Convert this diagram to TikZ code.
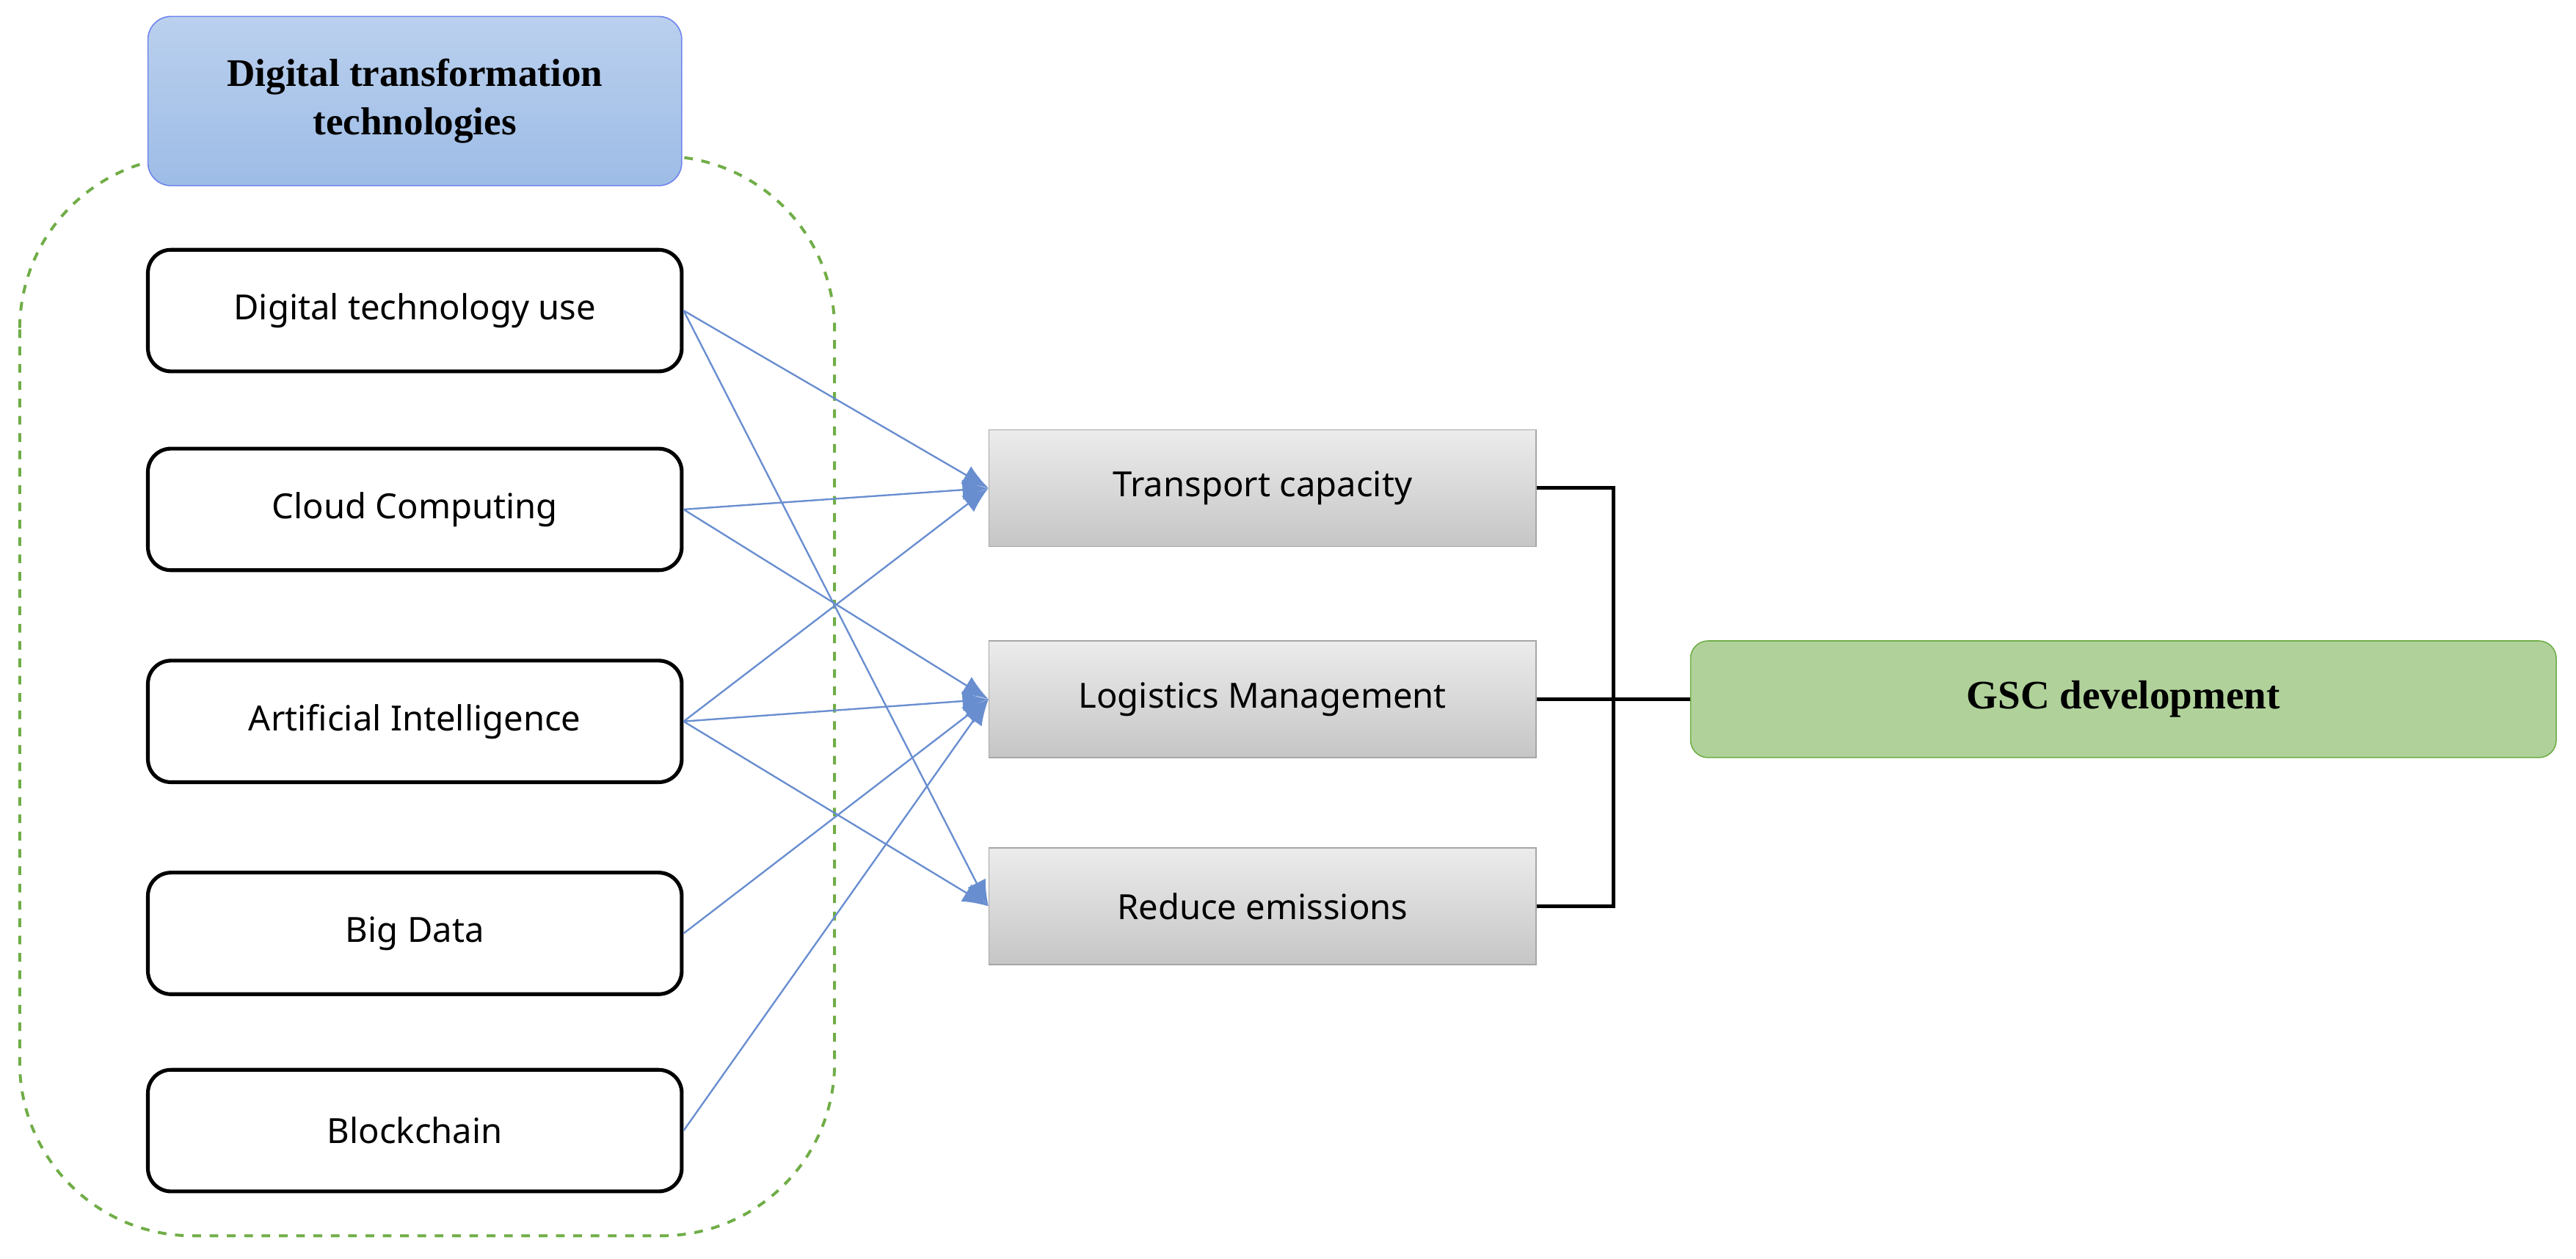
\documentclass[tikz,border=0pt]{standalone}
\usepackage{fontspec}
\setmainfont{Liberation Serif}
\newfontfamily\boxfont{Noto Sans}
\usetikzlibrary{arrows.meta}
\definecolor{techblue}{HTML}{4472C4}
\definecolor{headblue}{HTML}{9DBCE6}
\definecolor{groupgreen}{HTML}{70AD47}
\tikzset{
  tech/.style={draw, line width=1.3pt, rounded corners=8pt, minimum width=6.5cm, minimum height=1.48cm, font=\boxfont\fontsize{12}{14}\selectfont},
  effect/.style={draw=gray!70, top color=gray!15, bottom color=gray!45, minimum width=6.66cm, minimum height=1.42cm, font=\boxfont\fontsize{12}{14}\selectfont},
  link/.style={draw=techblue!80, line width=0.6pt, -{Latex[length=9pt,width=7pt]}},
  joinline/.style={line width=1.2pt}
}
\begin{document}
\begin{tikzpicture}[x=0.02cm, y=-0.02cm]
        \useasboundingbox (0,0) rectangle (1568,766);
        \draw[groupgreen, dashed, line width=1pt, rounded corners=60] (12,95) rectangle (508,752);
        \node[draw=headblue!70!blue, top color=headblue!70, bottom color=headblue, rounded corners=8pt, minimum width=6.5cm, minimum height=2.06cm, align=center, font=\bfseries\fontsize{13.5}{17}\selectfont] at (252.5,61.5) (H) {Digital transformation\\technologies};

        \node[tech] at (252.5,189) (A) {Digital technology use};
        \node[tech] at (252.5,310) (B) {Cloud Computing};
        \node[tech] at (252.5,439) (C) {Artificial Intelligence};
        \node[tech] at (252.5,568) (D) {Big Data};
        \node[tech] at (252.5,688) (E) {Blockchain};

        \node[effect] at (768.5,297) (T) {Transport capacity};
        \node[effect] at (768.5,425.5) (L) {Logistics Management};
        \node[effect] at (768.5,551.5) (R) {Reduce emissions};

        \node[draw=groupgreen, fill=groupgreen!55, rounded corners=6pt, minimum width=10.54cm, minimum height=1.42cm, font=\bfseries\fontsize{14}{17}\selectfont] at (1292.5,425.5) (G) {GSC development};
        \coordinate (J1) at (982,297);
        \coordinate (J2) at (982,551.5);

        \draw [link] (A.east) -- (T.west);
        \draw [link] (A.east) -- (R.west);
        \draw [link] (B.east) -- (T.west);
        \draw [link] (B.east) -- (L.west);
        \draw [link] (C.east) -- (T.west);
        \draw [link] (C.east) -- (L.west);
        \draw [link] (C.east) -- (R.west);
        \draw [link] (D.east) -- (L.west);
        \draw [link] (E.east) -- (L.west);

        \draw [joinline] (T.east) -- (J1) -- (J2) -- (R.east);
        \draw [joinline] (L.east) -- (G.west);
    \end{tikzpicture}
\end{document}
